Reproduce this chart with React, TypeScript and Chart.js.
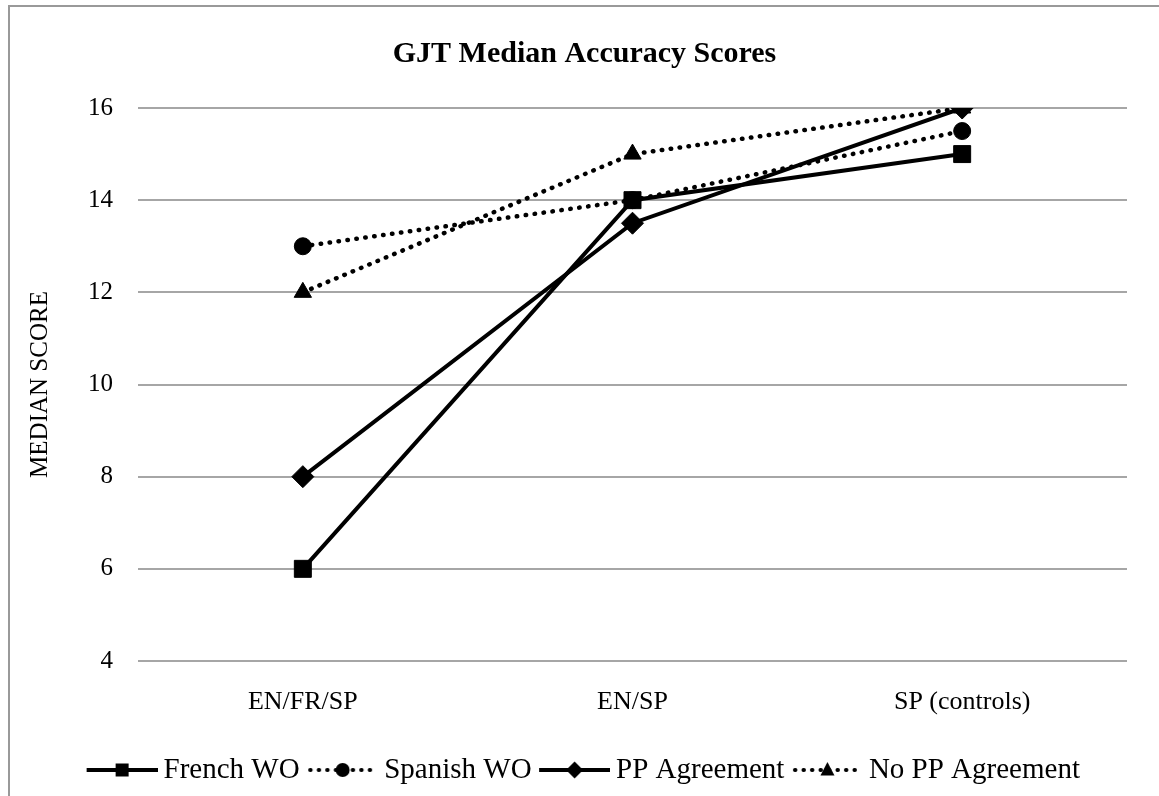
import React, { useEffect, useRef } from 'react';
import { Chart, registerables } from 'chart.js';

Chart.register(...registerables);

const categories = ['EN/FR/SP', 'EN/SP', 'SP (controls)'];
const seriesNames = ['French WO', 'Spanish WO', 'PP Agreement', 'No PP Agreement'];
const frenchWO = [6, 14, 15];
const spanishWO = [13, 14, 15.5];
const ppAgreement = [8, 13.5, 16];
const noPPAgreement = [12, 15, 16];
const yTicks = [4, 6, 8, 10, 12, 14, 16];

const FONT = "'Liberation Serif', 'Times New Roman', serif";

function legendSample(dotted: boolean, style: string): HTMLCanvasElement {
  const c = document.createElement('canvas');
  c.width = 77;
  c.height = 24;
  const ctx = c.getContext('2d')!;
  ctx.strokeStyle = '#000';
  ctx.fillStyle = '#000';
  ctx.lineWidth = dotted ? 4 : 4;
  if (dotted) {
    ctx.setLineDash([0.5, 8]);
    ctx.lineCap = 'round';
  }
  ctx.beginPath();
  ctx.moveTo(dotted ? 9 : 6, 12);
  ctx.lineTo(77, 12);
  ctx.stroke();
  ctx.setLineDash([]);
  const cx = 41.5;
  const cy = 12;
  ctx.beginPath();
  if (style === 'rect') ctx.rect(cx - 6.5, cy - 6.5, 13, 13);
  else if (style === 'circle') ctx.arc(cx, cy, 7, 0, Math.PI * 2);
  else if (style === 'rectRot') {
    ctx.moveTo(cx, cy - 8.5);
    ctx.lineTo(cx + 8.5, cy);
    ctx.lineTo(cx, cy + 8.5);
    ctx.lineTo(cx - 8.5, cy);
    ctx.closePath();
  } else {
    ctx.moveTo(cx, cy - 8);
    ctx.lineTo(cx + 7, cy + 5.5);
    ctx.lineTo(cx - 7, cy + 5.5);
    ctx.closePath();
  }
  ctx.fill();
  return c;
}

export default function App() {
  const ref = useRef<HTMLCanvasElement | null>(null);

  useEffect(() => {
    document.body.style.overflow = 'hidden';
    const canvas = ref.current!;
    const specs = [
      { data: frenchWO, dotted: false, style: 'rect', radius: 12 },
      { data: spanishWO, dotted: true, style: 'circle', radius: 8.5 },
      { data: ppAgreement, dotted: false, style: 'rectRot', radius: 11 },
      { data: noPPAgreement, dotted: true, style: 'triangle', radius: 10 },
    ];
    const images = specs.map((s) => legendSample(s.dotted, s.style));
    const datasets = specs.map((s, i) => ({
      label: seriesNames[i],
      data: s.data,
      borderColor: '#000',
      backgroundColor: '#000',
      borderWidth: s.dotted ? 4.5 : 4,
      borderDash: s.dotted ? [0.5, 8.5] : [],
      borderCapStyle: s.dotted ? 'round' : 'butt',
      pointStyle: s.style,
      pointRadius: s.radius,
      pointBackgroundColor: '#000',
      pointBorderColor: '#000',
      pointBorderWidth: 1,
      tension: 0,
    }));

    const chart = new Chart(canvas, {
      type: 'line',
      data: { labels: categories, datasets: datasets as any },
      options: {
        responsive: false,
        animation: false,
        layout: { padding: { top: 0, left: 0, right: 0, bottom: 1.5 } },
        plugins: {
          title: {
            display: true,
            text: 'GJT Median Accuracy Scores',
            color: '#000',
            font: { family: FONT, size: 30, weight: 'bold' },
            padding: { top: 29, bottom: 36 },
          },
          legend: {
            position: 'bottom',
            labels: {
              usePointStyle: true,
              pointStyleWidth: 60,
              padding: 10,
              color: '#000',
              font: { family: FONT, size: 29 },
              generateLabels: (c: any) =>
                Chart.defaults.plugins.legend.labels
                  .generateLabels(c)
                  .map((l: any, i: number) => ({ ...l, pointStyle: images[i] })),
            },
          },
          tooltip: { enabled: false },
        },
        scales: {
          x: {
            offset: true,
            grid: { display: false },
            border: { display: false },
            ticks: { color: '#000', font: { family: FONT, size: 26 }, padding: 18 },
            afterFit: (s: any) => {
              s.height = 84.5;
            },
          },
          y: {
            min: 4,
            max: 16,
            afterBuildTicks: (s: any) => {
              s.ticks = yTicks.map((v) => ({ value: v }));
            },
            grid: { color: '#a6a6a6', lineWidth: 2, drawTicks: false },
            border: { display: false },
            ticks: { color: '#000', font: { family: FONT, size: 25 }, padding: 25 },
            title: {
              display: true,
              text: 'MEDIAN SCORE',
              color: '#000',
              font: { family: FONT, size: 25 },
              padding: { top: 15, bottom: 0 },
            },
            afterFit: (s: any) => {
              s.width = 128;
            },
          },
          yRight: {
            position: 'right',
            display: true,
            grid: { display: false },
            border: { display: false },
            ticks: { display: false },
            afterFit: (s: any) => {
              s.width = 32;
            },
          },
        },
      } as any,
    });
    return () => chart.destroy();
  }, []);

  return (
    <div
      style={{
        position: 'absolute',
        left: 8,
        top: 5,
        width: 1151,
        height: 791,
        borderLeft: '2px solid #999',
        borderTop: '2px solid #999',
        boxSizing: 'border-box',
        overflow: 'hidden',
        background: '#fff',
      }}
    >
      <canvas ref={ref} width={1149} height={789} style={{ display: 'block' }} />
    </div>
  );
}
